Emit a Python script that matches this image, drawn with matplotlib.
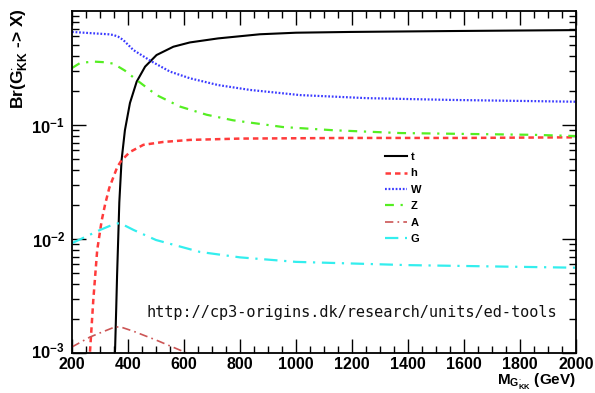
import matplotlib
matplotlib.use("Agg")
import matplotlib.pyplot as plt
import matplotlib.transforms as mtrans
from matplotlib.ticker import FixedLocator, MultipleLocator, LogLocator, NullFormatter

plt.rcParams['font.family'] = ['Liberation Sans', 'DejaVu Sans']
plt.rcParams['font.weight'] = 'bold'
plt.rcParams['mathtext.fontset'] = 'custom'
plt.rcParams['mathtext.rm'] = 'Liberation Sans:bold'
plt.rcParams['mathtext.bf'] = 'Liberation Sans:bold'
plt.rcParams['mathtext.it'] = 'Liberation Sans:bold'
plt.rcParams['mathtext.default'] = 'bf'

# ---- data ----
t_m = [346, 350, 354, 358, 361, 365, 369, 377, 389, 407, 431, 461, 502, 562, 621, 722, 871, 1000, 1193, 1550, 2000]
t_v = [0.0003, 0.0007, 0.0011, 0.0025, 0.0048, 0.010, 0.021, 0.049, 0.090, 0.156, 0.24, 0.325, 0.411, 0.486, 0.53, 0.575, 0.625, 0.645, 0.655, 0.667, 0.68]

h_m = [258, 264, 276, 290, 306, 318, 333, 348, 362, 377, 407, 455, 526, 621, 800, 1200, 1600, 2000]
h_v = [0.0007, 0.001, 0.0029, 0.008, 0.0145, 0.02, 0.028, 0.035, 0.043, 0.049, 0.058, 0.067, 0.071, 0.074, 0.076, 0.077, 0.077, 0.078]

w_m = [200, 264, 330, 348, 365, 383, 419, 485, 550, 621, 722, 836, 1014, 1253, 1550, 2000]
w_v = [0.655, 0.64, 0.625, 0.616, 0.595, 0.557, 0.455, 0.36, 0.294, 0.257, 0.224, 0.203, 0.183, 0.172, 0.166, 0.16]

z_m = [200, 229, 276, 320, 348, 389, 431, 502, 586, 681, 775, 953, 1132, 1371, 1846, 2000]
z_v = [0.316, 0.35, 0.36, 0.355, 0.345, 0.30, 0.248, 0.183, 0.145, 0.123, 0.11, 0.096, 0.09, 0.085, 0.082, 0.08]

a_m = [200, 264, 300, 350, 371, 420, 500, 610, 700]
a_v = [0.00113, 0.00138, 0.0015, 0.00168, 0.0017, 0.00155, 0.0013, 0.001, 0.0008]

g_m = [200, 250, 300, 350, 371, 420, 500, 657, 800, 1000, 1400, 2000]
g_v = [0.0092, 0.0105, 0.012, 0.0135, 0.0138, 0.012, 0.0098, 0.0077, 0.0069, 0.0063, 0.0059, 0.0056]

labels = ['t', 'h', 'W', 'Z', 'A', 'G']
x_ticks = [200, 400, 600, 800, 1000, 1200, 1400, 1600, 1800, 2000]
url = "http://cp3-origins.dk/research/units/ed-tools"

fig = plt.figure(figsize=(5.95, 3.93), dpi=100)
ax = fig.add_axes([72/595, 40/393, 504/595, 342/393])

ax.plot(t_m, t_v, color='black', lw=1.5, ls='-', label=labels[0])
ax.plot(h_m, h_v, color='#ff3b3b', lw=1.8, ls=(0, (2.2, 1.6)), label=labels[1])
ax.plot(w_m, w_v, color='#3b3bff', lw=1.6, ls=(0, (0.8, 0.8)), label=labels[2])
ax.plot(z_m, z_v, color='#55ee22', lw=1.6, ls=(0, (4, 3, 1, 3)), label=labels[3])
ax.plot(a_m, a_v, color='#cc5555', lw=1.2, ls=(0, (5, 2.5, 1, 2.5)), label=labels[4])
ax.plot(g_m, g_v, color='#33eeee', lw=1.6, ls=(0, (6, 3, 1, 3)), label=labels[5])

ax.set_yscale('log')
ax.set_xlim(200, 2000)
ax.set_ylim(1e-3, 1)

ax.xaxis.set_major_locator(FixedLocator(x_ticks))
ax.xaxis.set_minor_locator(MultipleLocator(50))
ax.set_xticklabels([str(v) for v in x_ticks], fontsize=11.5, fontweight='bold')
ax.yaxis.set_major_locator(FixedLocator([1e-3, 1e-2, 1e-1]))
ax.set_yticklabels([r'$10^{-3}$', r'$10^{-2}$', r'$10^{-1}$'], fontsize=12)
ax.yaxis.set_minor_locator(LogLocator(base=10, subs=range(2, 10)))
ax.yaxis.set_minor_formatter(NullFormatter())

ax.tick_params(which='both', direction='in', top=True, right=True, width=1.0)
ax.tick_params(which='major', length=10)
ax.tick_params(which='minor', length=5)
ax.tick_params(axis='x', which='major', pad=3)
ax.tick_params(axis='y', which='major', pad=5)
for s in ax.spines.values():
    s.set_linewidth(1.3)

# nudge the lowest y label up a little so it does not collide with "200"
lbl = ax.get_yticklabels()[0]
lbl.set_transform(lbl.get_transform() + mtrans.ScaledTranslation(0, 3/100, fig.dpi_scale_trans))

leg = ax.legend(loc='upper left', bbox_to_anchor=(385/595, 1 - 152/393), bbox_transform=fig.transFigure,
                frameon=False, fontsize=8, handlelength=2.0, handletextpad=0.3, labelspacing=0.58,
                borderpad=0, borderaxespad=0)
for txt in leg.get_texts():
    txt.set_fontweight('bold')

fig.text(20/595, 1 - 8/393, r'Br(G$^{\cdot}_{KK}$ -> X)', rotation=90, ha='center', va='top',
         fontsize=12.5, fontweight='bold')
fig.text(576/595, 1 - 382/393, r'M$_{G^{\cdot}_{KK}}$ (GeV)', ha='right', va='center',
         fontsize=11, fontweight='bold')
ax.text((352 - 72) / 504, (393 - 313 - 40) / 342, url, transform=ax.transAxes,
        family='DejaVu Sans Mono', fontweight='normal', fontsize=11, ha='center', va='center', color='#111111')

fig.savefig('out.png', dpi=100)
